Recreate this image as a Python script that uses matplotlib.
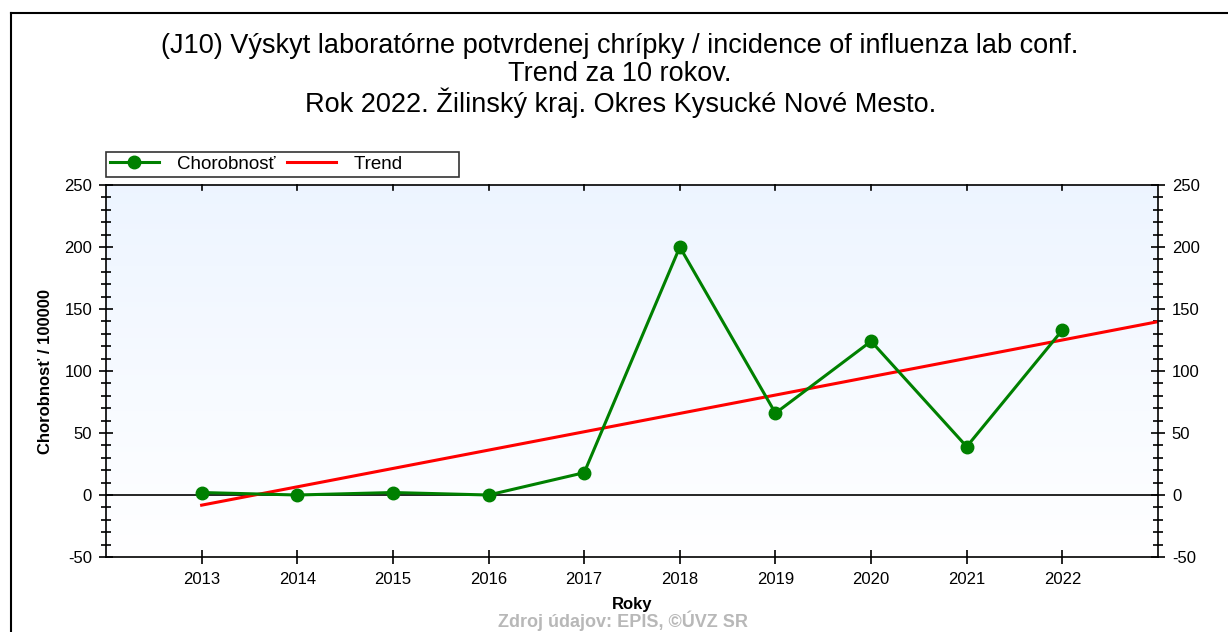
import numpy as np
import matplotlib
matplotlib.use("Agg")
import matplotlib.pyplot as plt
from matplotlib.lines import Line2D
from matplotlib.ticker import MultipleLocator

plt.rcParams['font.family'] = ['Liberation Sans', 'DejaVu Sans']
plt.rcParams['axes.unicode_minus'] = False

years = [2013, 2014, 2015, 2016, 2017, 2018, 2019, 2020, 2021, 2022]
chorobnost = [2, 0, 2, 0, 18, 200, 66, 124, 39, 133]

title_lines = ["(J10) Výskyt laboratórne potvrdenej chrípky / incidence of influenza lab conf.",
               "Trend za 10 rokov.",
               "Rok 2022. Žilinský kraj. Okres Kysucké Nové Mesto."]
title_y = [46, 74, 103]

W, H = 1228, 632

# linear trend over the years, carried on to the right edge
k, q = np.polyfit(years, chorobnost, 1)
trend_x = np.array([years[0], years[-1] + 1])
trend_y = k * trend_x + q

fig = plt.figure(figsize=(W / 100, H / 100), dpi=100)
ax = fig.add_axes([106 / W, 1 - 557 / H, (1158 - 106) / W, (557 - 185) / H])

# frame round the whole picture (only top and left show)
fig.add_artist(Line2D([11 / W, 11 / W], [0, 1 - 13 / H], transform=fig.transFigure,
                      color='black', lw=1.5))
fig.add_artist(Line2D([11 / W, 1], [1 - 13 / H, 1 - 13 / H], transform=fig.transFigure,
                      color='black', lw=1.5))

# background: light blue at the top fading to white
grad = np.linspace(0, 1, 256).reshape(-1, 1)
top = np.array([0.93, 0.96, 1.0])
bot = np.array([1.0, 1.0, 1.0])
img = top * (1 - grad)[..., None] + bot * grad[..., None]
ax.imshow(img, extent=[2012, 2023, -50, 250], aspect='auto', zorder=0)

ax.axhline(0, color='black', lw=1.2, zorder=1)
ax.plot(trend_x, trend_y, color='red', lw=2.2, zorder=2, label='Trend')
ax.plot(years, chorobnost, color='green', lw=2.2, marker='o', markersize=9,
        zorder=3, label='Chorobnosť')

ax.set_xlim(2012, 2023)
ax.set_ylim(-50, 250)
ax.set_xticks(years)
ax.yaxis.set_major_locator(MultipleLocator(50))
ax.yaxis.set_minor_locator(MultipleLocator(10))
ax.tick_params(axis='y', which='major', direction='inout', length=10, width=1.2,
               left=True, right=True, labelleft=True, labelright=True, labelsize=12, pad=5)
ax.tick_params(axis='y', which='minor', direction='inout', length=7, width=1.2,
               left=True, right=True)
ax.tick_params(axis='x', which='major', direction='inout', length=10, width=1.2,
               top=False, labelsize=12, pad=6)
for yr in years:
    ax.plot([yr, yr], [250, 246], color='black', lw=1.2, zorder=4, clip_on=False)

for side in ['top', 'bottom', 'left', 'right']:
    ax.spines[side].set_linewidth(1.2)

ax.set_xlabel('Roky', fontsize=12, fontweight='bold', labelpad=7)
ax.set_ylabel('Chorobnosť / 100000', fontsize=12, fontweight='bold', labelpad=8)

for line, y in zip(title_lines, title_y):
    fig.text(0.505, 1 - y / H, line, ha='center', va='center', fontsize=19.5)

handles = [Line2D([], [], color='green', lw=2.2, marker='o', markersize=9),
           Line2D([], [], color='red', lw=2.2)]
leg = fig.legend(handles, ['Chorobnosť', 'Trend'], loc='upper left',
                 bbox_to_anchor=(106 / W, 1 - 152 / H), ncol=2, fontsize=13.5,
                 frameon=True, fancybox=False, edgecolor='black', borderpad=0.2,
                 handlelength=2.6, columnspacing=0.6, handletextpad=1.0, borderaxespad=0)
leg.get_frame().set_linewidth(1.2)
leg.get_texts()[1].set_text('Trend          ')

fig.text(0.507, 1 / H, 'Zdroj údajov: EPIS, ©ÚVZ SR', ha='center', va='bottom',
         fontsize=13, fontweight='bold', color='#b8b8b8')

fig.savefig('out.png', dpi=100)
